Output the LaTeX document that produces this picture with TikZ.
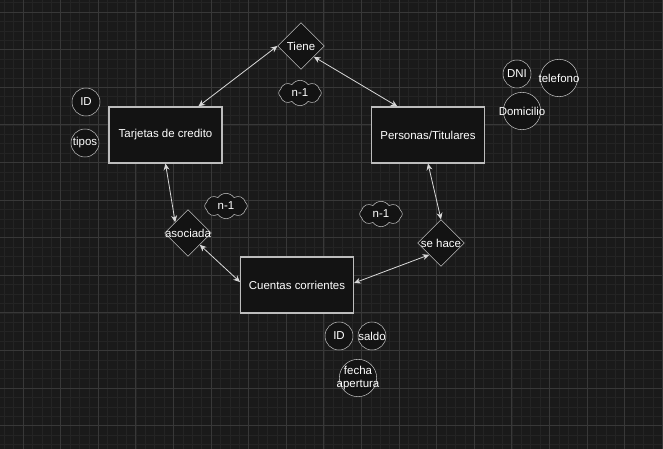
\documentclass[tikz,border=0pt]{standalone}
\usepackage{fontspec}
\setmainfont{Liberation Sans}
\usetikzlibrary{shapes.geometric,shapes.symbols,arrows.meta}

\definecolor{canvas}{HTML}{1A1A1A}
\definecolor{minorline}{HTML}{242424}
\definecolor{majorline}{HTML}{383838}
\definecolor{boxfill}{HTML}{131313}
\definecolor{edge}{HTML}{BDBDBD}
\definecolor{linkline}{HTML}{D8D8D8}

\begin{document}
\begin{tikzpicture}[x=0.75pt, y=-0.75pt, font=\fontsize{8.6}{9.8}\selectfont, text=white,
  entity/.style = {draw=edge, fill=boxfill, line width=0.8pt, minimum width=84.75pt, minimum height=42pt},
  rel/.style = {draw=edge, fill=boxfill, diamond, minimum width=35pt, minimum height=35pt, inner sep=0pt},
  attr/.style = {draw=edge, fill=boxfill, circle, minimum size=21pt, inner sep=0pt},
  bigattr/.style = {attr, minimum size=28pt},
  card/.style = {draw=edge, fill=boxfill, cloud, cloud puffs=8, cloud puff arc=110, aspect=1.6, minimum width=32pt, minimum height=19pt, inner sep=0pt},
  link/.style = {draw=linkline, line width=0.6pt, {Stealth[length=5pt,width=4.5pt]}-{Stealth[length=5pt,width=4.5pt]}}]

% fondo y cuadricula
\fill[canvas] (0,0) rectangle (663,449);
\useasboundingbox (0,0) rectangle (663,449);
\foreach \i in {-2,...,68} \draw[minorline, line width=0.4pt] (23+9.4*\i,0) -- (23+9.4*\i,449);
\foreach \i in {-1,...,47} \draw[minorline, line width=0.4pt] (0,12+9.4*\i) -- (663,12+9.4*\i);
\foreach \i in {0,...,17} \draw[majorline, line width=0.6pt] (23+37.6*\i,0) -- (23+37.6*\i,449);
\foreach \i in {0,...,11} \draw[majorline, line width=0.6pt] (0,12+37.6*\i) -- (663,12+37.6*\i);

% entidades y relaciones
\node[entity] (tarjetas) at (165.5,135) {Tarjetas de credito};
\node[entity] (personas) at (428,135) {Personas/Titulares};
\node[entity] (cuentas)  at (297,285) {Cuentas corrientes};
\node[rel] (tiene)    at (301,46)  [label=center:Tiene] {};
\node[rel] (asociada) at (188,233) [label=center:asociada] {};
\node[rel] (sehace)   at (441,243) [label=center:se hace] {};

% cardinalidades
\node[card] (card1) at (300,93)  [label=center:n-1] {};
\node[card] (card2) at (226,206) [label=center:n-1] {};
\node[card] (card3) at (381,214) [label=center:n-1] {};

% atributos
\node[attr] (idtarj) at (86,102) [label=center:ID] {};
\node[attr] (tipos)  at (85,143) [label=center:tipos] {};
\node[attr] (dni)    at (517,74) [label=center:DNI] {};
\node[bigattr] (telefono)  at (559,78)  [label=center:telefono] {};
\node[bigattr] (domicilio) at (522,111) [label=center:Domicilio] {};
\node[attr] (idcta)  at (339,336) [label=center:ID] {};
\node[attr] (saldo)  at (372,336) [label=center:saldo] {};
\node[bigattr] (fecha) at (358,378) [label={[align=center]center:fecha\\apertura}] {};

\draw[link] (tiene.west) -- (tarjetas.41.6);
\draw[link] (tiene.-40) -- (personas.137);
\draw[link] (tarjetas.south) -- (asociada.140);
\draw[link] (asociada.-45) -- (cuentas.177);
\draw[link] (personas.south) -- (sehace.north);
\draw[link] (sehace.225) -- (cuentas.2);

\end{tikzpicture}
\end{document}
